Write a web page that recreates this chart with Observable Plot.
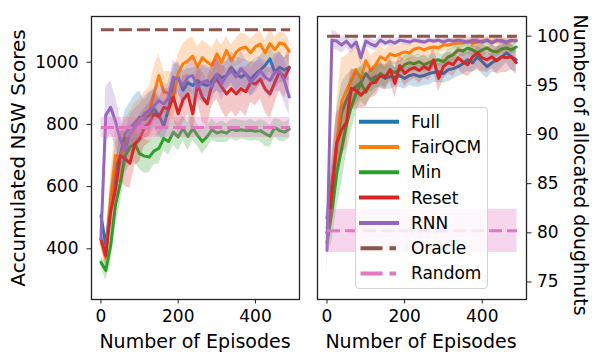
<!DOCTYPE html>
<html>
<head>
<meta charset="utf-8">
<script src="https://cdn.jsdelivr.net/npm/d3@7"></script>
<script src="https://cdn.jsdelivr.net/npm/@observablehq/plot@0.6"></script>
<style>
  html, body { margin: 0; padding: 0; background: #fff; }
  #wrap { position: relative; width: 594px; height: 354px; font-family: "DejaVu Sans", sans-serif; overflow: hidden; }
  #wrap svg { position: absolute; top: 0; }
  .lab { position: absolute; font-size: 19px; color: #000; white-space: nowrap; }
</style>
</head>
<body>
<div id="wrap"></div>
<script>
// ---------- data ----------
const episodes = [0,12.5,25,37.5,50,62.5,75,87.5,100,112.5,125,137.5,150,162.5,175,187.5,200,212.5,225,237.5,250,262.5,275,287.5,300,312.5,325,337.5,350,362.5,375,387.5,400,412.5,425,437.5,450,462.5,475,487.5];
const xTicks = [0, 200, 400];
const nswTicks = [400, 600, 800, 1000];
const dnTicks = [75, 80, 85, 90, 95, 100];
const methods = ["Full", "FairQCM", "Min", "Reset", "RNN"];
const baselines = ["Oracle", "Random"];
const palette = {Full: "#1f77b4", FairQCM: "#ff7f0e", Min: "#2ca02c", Reset: "#d62728", RNN: "#9467bd", Oracle: "#8c564b", Random: "#e377c2"};

// Accumulated NSW scores (left panel): mean and half band width
const nswFull    = [507,410,540,660,700,770,790,805,823,815,830,850,830,795,850,935,952,910,935,925,941,930,925,941,962,950,957,984,962,952,962,945,962,975,990,1011,968,984,975,984];
const nswFullSd  = [20,40,70,80,70,75,80,90,85,60,70,60,65,50,60,55,50,60,45,55,50,60,55,45,55,50,45,50,55,60,45,55,50,45,50,40,55,50,40,40];
const nswFair    = [427,370,560,700,695,740,765,790,810,830,840,900,957,905,900,890,965,995,1005,1020,985,1015,1000,990,1027,1000,1038,1005,1032,1045,1048,1030,1050,1058,1030,1060,1040,1062,1058,1035];
const nswFairSd  = [25,35,80,90,85,80,75,80,70,75,80,85,70,65,70,75,60,65,70,60,65,55,60,55,50,55,45,50,45,50,40,45,40,45,40,45,40,35,35,35];
const nswMin     = [357,330,410,540,610,700,727,738,706,698,695,715,723,755,745,775,760,787,761,788,765,745,761,783,772,777,772,785,780,783,780,781,778,780,770,762,790,780,775,785];
const nswMinSd   = [15,30,60,70,65,60,55,60,50,55,50,45,50,40,45,40,45,40,45,40,35,40,35,35,30,35,30,30,35,30,30,35,30,35,40,35,30,35,30,30];
const nswReset   = [432,378,520,590,700,690,675,737,754,790,805,834,823,855,850,888,834,880,898,834,930,888,866,930,946,920,898,915,898,915,905,936,930,946,914,898,935,970,950,982];
const nswResetSd = [20,30,60,80,80,90,80,70,75,60,65,70,60,60,65,70,60,75,65,70,60,80,75,70,65,75,80,70,75,70,80,65,70,65,75,80,70,60,65,60];
const nswRnn     = [432,830,855,810,750,716,770,795,805,834,845,860,877,866,885,952,945,925,952,957,920,936,941,920,962,930,957,973,952,979,962,936,952,973,952,941,968,970,940,888];
const nswRnnSd   = [25,90,85,80,70,60,60,55,60,55,60,55,50,55,50,55,45,50,45,55,50,55,50,45,50,55,45,50,45,55,50,45,50,45,50,55,60,65,70,60];
const nswOracle = 1104;
const nswRandom = 790, nswRandomSd = 32;

// Number of allocated doughnuts (right panel)
const dnFull    = [81.5,85,89,92.2,93.5,94.5,94.9,95.3,96.2,95.6,95.9,96.0,95.7,95.9,95.8,96.0,95.7,96.0,96.1,95.9,96.0,96.2,96.3,96.4,96.2,96.6,96.7,96.9,97.2,97.6,97.3,97.9,97.4,96.9,97.3,97.6,97.9,98.3,97.9,97.6];
const dnFullSd  = [1.0,3.0,3.5,3.0,2.5,2.0,1.8,1.6,1.5,1.3,1.2,1.2,1.1,1.3,1.0,1.2,1.1,1.0,1.3,1.1,1.0,1.2,1.0,1.1,1.0,1.2,1.1,1.0,1.1,1.2,1.0,1.1,1.3,1.2,1.0,1.3,1.1,1.0,1.4,1.2];
const dnFair    = [80.5,84,89,93.3,94.5,95.5,96.6,95.7,97.5,96.5,97.1,97.9,97.6,98.2,98.0,98.2,98.4,98.3,98.7,98.8,98.6,98.8,98.9,98.8,99.1,99.1,99.2,99.3,99.3,99.5,99.3,99.4,99.5,99.6,99.4,99.5,99.6,99.4,99.5,99.6];
const dnFairSd  = [1.0,3.0,4.0,4.5,3.5,3.0,2.5,2.0,1.5,1.5,1.3,1.2,1.0,1.0,0.9,0.9,0.8,0.8,0.8,0.7,0.7,0.7,0.6,0.6,0.6,0.6,0.5,0.5,0.5,0.5,0.5,0.5,0.4,0.4,0.4,0.4,0.4,0.4,0.4,0.4];
const dnMin     = [79,82,86,88.5,91,92.8,94.2,95.2,94.3,95.2,95.6,96.2,95.9,96.5,96.3,96.6,97.1,97.3,97.2,97.4,97.1,97.3,97.5,97.6,97.4,97.9,98.1,98.6,98.5,98.8,98.6,98.3,98.6,98.8,98.5,98.4,98.7,98.8,98.6,98.9];
const dnMinSd   = [1.0,3.0,3.5,3.5,3.0,2.5,2.0,1.8,1.5,1.4,1.3,1.2,1.1,1.0,1.0,0.9,0.9,0.9,0.8,0.8,0.8,0.8,0.7,0.7,0.7,0.7,0.7,0.6,0.6,0.6,0.6,0.6,0.6,0.6,0.6,0.5,0.5,0.5,0.5,0.5];
const dnReset   = [80.0,84,89.1,90.5,91.2,94.7,94.5,94.0,94.5,95.2,95.3,96.0,95.8,96.6,95.2,97.0,96.2,96.6,96.8,96.5,96.9,96.6,97.6,95.7,96.9,97.3,97.1,97.8,97.4,97.1,97.9,98.3,97.8,97.6,97.9,97.5,97.9,97.8,97.9,97.3];
const dnResetSd = [1.0,3.0,3.0,2.5,2.5,2.0,2.0,1.8,1.6,1.5,1.4,1.3,1.3,1.2,1.5,1.2,1.3,1.2,1.1,1.3,1.2,1.1,1.2,1.4,1.2,1.1,1.2,1.1,1.3,1.2,1.5,1.8,1.4,1.3,1.2,1.4,1.6,1.5,1.3,1.2];
const dnRnn     = [78.2,99.6,99.5,99.1,99.5,98.9,99.4,97.8,99.5,99.2,99.0,99.6,99.3,99.5,99.3,99.6,99.5,99.4,99.6,99.5,99.4,99.6,99.5,99.6,99.4,99.6,99.5,99.6,99.5,99.4,99.6,99.5,99.4,99.6,99.3,99.6,99.5,99.4,99.6,99.5];
const dnRnnSd   = [3.0,1.0,0.9,0.8,0.7,0.7,0.6,0.8,0.6,0.5,0.5,0.5,0.4,0.4,0.4,0.4,0.4,0.4,0.3,0.3,0.3,0.3,0.3,0.3,0.3,0.3,0.3,0.3,0.3,0.3,0.3,0.3,0.3,0.3,0.3,0.3,0.3,0.3,0.3,0.3];
const dnOracle = 100;
const dnRandom = 80.2, dnRandomSd = 2.2;

// ---------- tables ----------
function rows(name, mean, sd) {
  return episodes.map((e, i) => ({method: name, ep: e, v: mean[i], lo: mean[i] - sd[i], hi: mean[i] + sd[i]}));
}
const leftSeries = [
  rows("Full", nswFull, nswFullSd), rows("FairQCM", nswFair, nswFairSd), rows("Min", nswMin, nswMinSd),
  rows("Reset", nswReset, nswResetSd), rows("RNN", nswRnn, nswRnnSd)
];
const rightSeries = [
  rows("Full", dnFull, dnFullSd), rows("FairQCM", dnFair, dnFairSd), rows("Min", dnMin, dnMinSd),
  rows("Reset", dnReset, dnResetSd), rows("RNN", dnRnn, dnRnnSd)
];
const span = [episodes[0], episodes[episodes.length - 1] + 2];

function seriesMarks(series) {
  const m = [];
  for (const s of series) {
    m.push(Plot.areaY(s, {x: "ep", y1: "lo", y2: "hi", fill: palette[s[0].method], fillOpacity: 0.25, curve: "linear"}));
    m.push(Plot.lineY(s, {x: "ep", y: "v", stroke: palette[s[0].method], strokeWidth: 3}));
  }
  return m;
}
function baselineMarks(oracle, rnd, rndSd) {
  const o = span.map(e => ({ep: e, v: oracle}));
  const r = span.map(e => ({ep: e, v: rnd, lo: rnd - rndSd, hi: rnd + rndSd}));
  return [
    Plot.lineY(o, {x: "ep", y: "v", stroke: palette.Oracle, strokeWidth: 3, strokeDasharray: "13,5", strokeLinecap: "butt"}),
    Plot.areaY(r, {x: "ep", y1: "lo", y2: "hi", fill: palette.Random, fillOpacity: 0.3}),
    Plot.lineY(r, {x: "ep", y: "v", stroke: palette.Random, strokeWidth: 3, strokeDasharray: "13,5", strokeLinecap: "butt"})
  ];
}

const xDomain = [-24.5, 514];
const common = {
  height: 354, marginTop: 16, marginBottom: 55,
  style: {fontFamily: "DejaVu Sans, sans-serif", fontSize: "17px", color: "#000", background: "transparent", overflow: "visible"}
};
const fmt = d => String(d);

const left = Plot.plot({
  ...common, width: 308, marginLeft: 91, marginRight: 9,
  x: {domain: xDomain},
  y: {domain: [237, 1147]},
  marks: [
    ...seriesMarks(leftSeries),
    ...baselineMarks(nswOracle, nswRandom, nswRandomSd),
    Plot.axisX({ticks: xTicks, tickFormat: fmt, tickSize: 4.5, tickPadding: 6, label: null, stroke: "#222"}),
    Plot.axisY({ticks: nswTicks, tickFormat: fmt, tickSize: 4.5, tickPadding: 8.5, label: null, stroke: "#222"}),
    Plot.frame({stroke: "#222", strokeWidth: 1.3})
  ]
});
const right = Plot.plot({
  ...common, width: 286, marginLeft: 9, marginRight: 68,
  x: {domain: xDomain},
  y: {domain: [73.22, 102.0]},
  marks: [
    ...seriesMarks(rightSeries),
    ...baselineMarks(dnOracle, dnRandom, dnRandomSd),
    Plot.axisX({ticks: xTicks, tickFormat: fmt, tickSize: 4.5, tickPadding: 6, label: null, stroke: "#222"}),
    Plot.axisY({anchor: "right", ticks: dnTicks, tickFormat: fmt, tickSize: 4.5, tickPadding: 6, label: null, stroke: "#222"}),
    Plot.frame({stroke: "#222", strokeWidth: 1.3})
  ]
});

const wrap = document.getElementById("wrap");
left.style.left = "0px";
right.style.left = "308px";
wrap.appendChild(left);
wrap.appendChild(right);

// axis titles
function label(text, x, y, rot, size) {
  const d = document.createElement("div");
  d.className = "lab";
  d.textContent = text;
  d.style.left = x + "px";
  d.style.top = y + "px";
  if (size) d.style.fontSize = size + "px";
  d.style.transform = `translate(-50%, -50%) rotate(${rot}deg)`;
  wrap.appendChild(d);
}
label("Number of Episodes", 195, 341, 0);
label("Number of Episodes", 421, 341, 0);
label("Accumulated NSW Scores", 18, 157.5, -90, 20);
label("Number of allocated doughnuts", 581, 165, 90);

// legend
const legendItems = [...methods, ...baselines];
const ns = "http://www.w3.org/2000/svg";
const leg = document.createElement("div");
Object.assign(leg.style, {position: "absolute", left: "355px", top: "107px", width: "133px", height: "182px",
  background: "rgba(255,255,255,0.8)", border: "1px solid #d3d3d3", borderRadius: "4px", boxSizing: "border-box"});
const lsvg = document.createElementNS(ns, "svg");
lsvg.setAttribute("width", 133); lsvg.setAttribute("height", 182);
lsvg.style.position = "absolute"; lsvg.style.left = "-1px"; lsvg.style.top = "-1px";
legendItems.forEach((name, i) => {
  const y = 14.7 + 25.3 * i;
  const ln = document.createElementNS(ns, "line");
  const dashed = baselines.includes(name);
  ln.setAttribute("x1", dashed ? 5.5 : 4); ln.setAttribute("x2", dashed ? 41 : 44);
  ln.setAttribute("y1", y); ln.setAttribute("y2", y);
  ln.setAttribute("stroke", palette[name]); ln.setAttribute("stroke-width", 4);
  if (dashed) ln.setAttribute("stroke-dasharray", "22,7");
  lsvg.appendChild(ln);
  const t = document.createElementNS(ns, "text");
  t.setAttribute("x", 56); t.setAttribute("y", y); t.setAttribute("dy", "0.35em");
  t.setAttribute("font-size", "17px"); t.setAttribute("font-family", "DejaVu Sans, sans-serif");
  t.textContent = name;
  lsvg.appendChild(t);
});
leg.appendChild(lsvg);
wrap.appendChild(leg);
</script>
</body>
</html>
